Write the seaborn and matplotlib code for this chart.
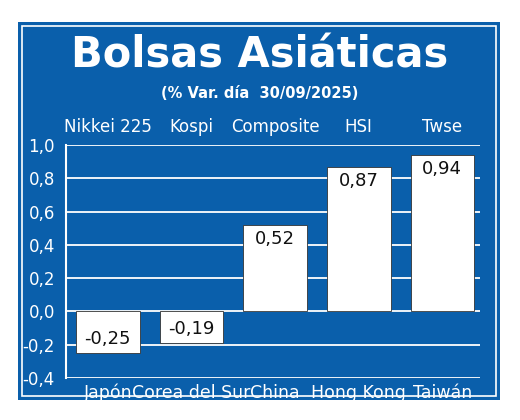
import matplotlib
matplotlib.use("Agg")
import numpy as np
import pandas as pd
import seaborn as sns
from matplotlib import pyplot as plt
from matplotlib.patches import Rectangle

paises = ["Japón", "Corea del Sur", "China", "Hong Kong", "Taiwán"]
indices = ["Nikkei 225", "Kospi", "Composite", "HSI", "Twse"]
variacion = [-0.25, -0.19, 0.52, 0.87, 0.94]
yticks = [-0.4, -0.2, 0.0, 0.2, 0.4, 0.6, 0.8, 1.0]

azul = "#0a5fab"
df = pd.DataFrame({"pais": paises, "var": variacion})

sns.set_style("white")
plt.rcParams["font.family"] = ["Liberation Sans Narrow", "DejaVu Sans"]

fig = plt.figure(figsize=(5.2, 4.2), dpi=100)
fig.patch.set_facecolor("white")
# blue panel with white frame
fig.patches.append(Rectangle((18 / 520, 20 / 420), 482 / 520, 378 / 420, transform=fig.transFigure,
                             facecolor=azul, edgecolor="none", zorder=-2))
fig.patches.append(Rectangle((22 / 520, 24 / 420), 474 / 520, 370 / 420, transform=fig.transFigure,
                             facecolor="none", edgecolor="white", lw=1.2, zorder=-1))

ax = fig.add_axes([66 / 520, 42 / 420, 414 / 520, 233 / 420])
ax.set_facecolor(azul)
sns.barplot(data=df, x="pais", y="var", color="white", width=0.76,
            edgecolor="#333333", linewidth=0.6, saturation=1, ax=ax, zorder=3)
ax.set_ylim(-0.4, 1.0)
ax.set_xlim(-0.5, 4.45)
ax.set_yticks(yticks)
ax.set_yticklabels([f"{v:.1f}".replace(".", ",") for v in yticks], color="white", fontsize=12)
ax.tick_params(axis="y", length=0, pad=8)
ax.tick_params(axis="x", length=0, pad=4, labelsize=12.5, colors="white")
ax.set_xlabel("")
ax.set_ylabel("")
for y in yticks:
    ax.axhline(y, color="white", lw=1.3, zorder=1)
for s in ["top", "right", "bottom"]:
    ax.spines[s].set_visible(False)
ax.spines["left"].set_color("white")
ax.spines["left"].set_linewidth(1.5)

for i, (v, lab) in enumerate(zip(variacion, indices)):
    txt = f"{v:.2f}".replace(".", ",")
    if v >= 0:
        ax.text(i, v - 0.03, txt, ha="center", va="top", fontsize=13, color="#111111", zorder=4)
    else:
        ax.text(i, v + 0.03, txt, ha="center", va="bottom", fontsize=13, color="#111111", zorder=4)
    ax.text(i, 1.055, lab, ha="center", va="bottom", fontsize=12, color="white")

fig.text(0.5, 365 / 420, "Bolsas Asiáticas", ha="center", va="center", color="white",
         fontsize=30, fontweight="bold")
fig.text(0.5, 327 / 420, "(% Var. día  30/09/2025)", ha="center", va="center", color="white",
         fontsize=10.5, fontweight="bold")

fig.savefig("out.png", dpi=100, facecolor="white")
